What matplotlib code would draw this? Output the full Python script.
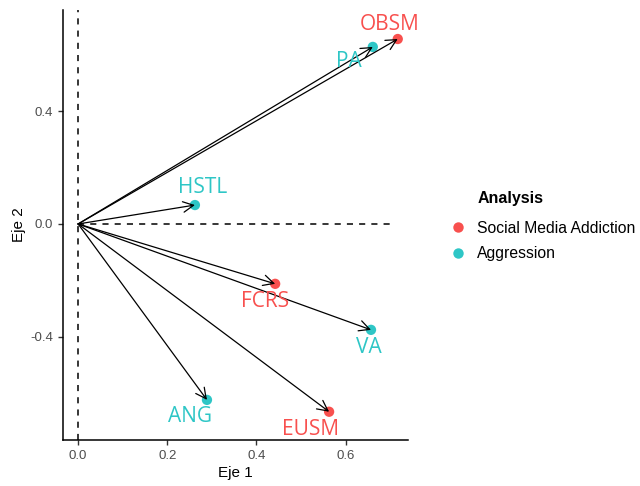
import matplotlib
matplotlib.use("Agg")
import matplotlib.pyplot as plt
from matplotlib.lines import Line2D

# variables y coordenadas en los dos ejes
labels = ["OBSM", "PA", "HSTL", "FCRS", "VA", "ANG", "EUSM"]
eje1 = [0.717, 0.661, 0.262, 0.442, 0.657, 0.289, 0.563]
eje2 = [0.655, 0.627, 0.067, -0.212, -0.375, -0.623, -0.665]
grupo = ["Social Media Addiction", "Aggression", "Aggression", "Social Media Addiction",
         "Aggression", "Aggression", "Social Media Addiction"]
grupos = ["Social Media Addiction", "Aggression"]
colores = {"Social Media Addiction": "#F8504E", "Aggression": "#2EC6C6"}
# desplazamiento de la etiqueta (px)
offsets = [(-8, 15), (-24, -15), (8, 18), (-10, -18), (-2, -18), (-17, -17), (-19, -18)]

plt.rcParams['font.family'] = ['Liberation Sans', 'DejaVu Sans']

fig = plt.figure(figsize=(6.4, 4.86), dpi=100)
ax = fig.add_axes([0.0984, 0.0947, 0.5391, 0.8843])

ax.axvline(0, color="black", linestyle=(0, (4, 4)), linewidth=1.1, zorder=1)
ax.hlines(0, 0, 0.705, color="black", linestyle=(0, (4, 4)), linewidth=1.1, zorder=1)

for x, y, g in zip(eje1, eje2, grupo):
    ax.scatter(x, y, s=55, color=colores[g], zorder=3, edgecolors="none")

for x, y in zip(eje1, eje2):
    ax.annotate("", xy=(x, y), xytext=(0, 0),
                arrowprops=dict(arrowstyle="->,head_length=0.75,head_width=0.38",
                                color="black", lw=0.9, shrinkA=0, shrinkB=0),
                zorder=4)

for lab, x, y, g, off in zip(labels, eje1, eje2, grupo, offsets):
    ax.annotate(lab, xy=(x, y), xytext=off, textcoords="offset pixels",
                ha="center", va="center", color=colores[g], fontsize=15,
                family=["Open Sans", "DejaVu Sans"], zorder=5)

ax.set_xlim(-0.034, 0.74)
ax.set_ylim(-0.765, 0.757)
ax.set_xticks([0.0, 0.2, 0.4, 0.6])
ax.set_yticks([-0.4, 0.0, 0.4])
ax.set_xticklabels(["0.0", "0.2", "0.4", "0.6"])
ax.set_yticklabels(["-0.4", "0.0", "0.4"])
ax.tick_params(colors="#333333", labelcolor="#4D4D4D", labelsize=9.5, length=3.5, width=1)
ax.set_xlabel("Eje 1", fontsize=11, labelpad=3)
ax.set_ylabel("Eje 2", fontsize=11, labelpad=3)
for s in ["top", "right"]:
    ax.spines[s].set_visible(False)
for s in ["left", "bottom"]:
    ax.spines[s].set_linewidth(1.1)
    ax.spines[s].set_color("black")

handles = [Line2D([], [], marker="o", linestyle="none", markersize=7.5,
                  markerfacecolor=colores[g], markeredgecolor="none", label=g)
           for g in grupos]
leg = fig.legend(handles=handles, loc="center left",
                 bbox_to_anchor=(0.681, 0.504), frameon=False, fontsize=11.3,
                 handletextpad=0.75, labelspacing=0.68, handlelength=1.0)
fig.text(478 / 640, 1 - 198 / 486, "Analysis", fontsize=11.5, fontweight="bold",
         ha="left", va="center")

fig.savefig("out.png", dpi=100)
